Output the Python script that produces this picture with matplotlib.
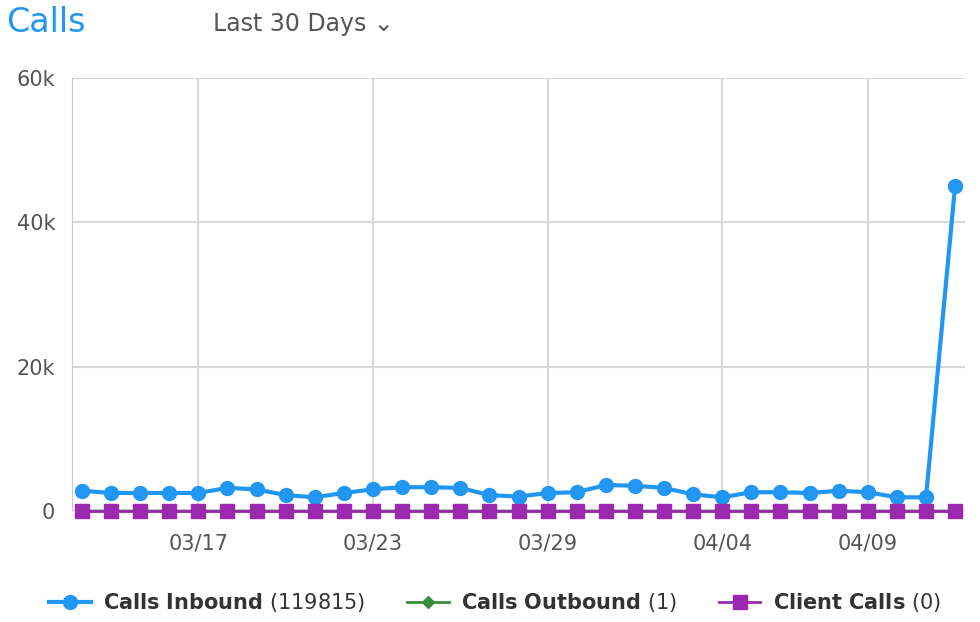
import numpy as np
import matplotlib.pyplot as plt
import matplotlib.dates as mdates
import datetime as dt
from matplotlib.lines import Line2D

start = dt.date(2023, 3, 13)
dates = [start + dt.timedelta(days=i) for i in range(31)]
inbound = [2800, 2500, 2500, 2500, 2500, 3200, 3000, 2200, 1900, 2500,
           3000, 3300, 3300, 3200, 2200, 2000, 2500, 2600, 3600, 3500,
           3200, 2300, 1900, 2600, 2600, 2500, 2800, 2600, 1900, 1900, 45100]
outbound = [0] * 31
outbound[20] = 1
client = [0] * 31
tick_dates = [dt.date(2023, 3, 17), dt.date(2023, 3, 23), dt.date(2023, 3, 29),
              dt.date(2023, 4, 4), dt.date(2023, 4, 9)]

fig = plt.figure(figsize=(9.8, 6.22), dpi=100)
ax = fig.add_axes([72 / 980, 1 - 511 / 622, (965 - 72) / 980, (511 - 78) / 622])

ax.plot(dates, inbound, color='#2196f3', lw=3, marker='o', ms=10, clip_on=False, zorder=3)
ax.plot(dates, outbound, color='#388e3c', lw=2, marker='D', ms=6, clip_on=False, zorder=4)
ax.plot(dates, client, color='#9c27b0', lw=2, marker='s', ms=10, clip_on=False, zorder=5)

ax.set_ylim(0, 60000)
x0 = mdates.date2num(dates[0])
x1 = mdates.date2num(dates[-1])
ax.set_xlim(x0 - 0.34, x1 + 0.34)
ax.set_yticks([0, 20000, 40000, 60000])
ax.set_yticklabels(['0', '20k', '40k', '60k'])
ax.set_xticks(tick_dates)
ax.xaxis.set_major_formatter(mdates.DateFormatter('%m/%d'))
ax.grid(True, color='#d8d8d8', lw=1.5)
ax.set_axisbelow(True)
for s in ['top', 'right', 'bottom']:
    ax.spines[s].set_visible(False)
ax.spines['left'].set_color('#cccccc')
ax.tick_params(length=0, labelsize=15, colors='#555555', pad=12)
ax.tick_params(axis='x', pad=16)

fig.text(6 / 980, 1 - 22 / 622, 'Calls', color='#2196f3', fontsize=24, va='center')
fig.text(213 / 980, 1 - 24 / 622, 'Last 30 Days \u2304', color='#555555', fontsize=17, va='center')

handles = [Line2D([], [], color='#2196f3', lw=3, marker='o', ms=10),
           Line2D([], [], color='#388e3c', lw=2, marker='D', ms=6),
           Line2D([], [], color='#9c27b0', lw=2, marker='s', ms=10)]
labels = [r'$\bf{Calls\ Inbound}$ (119815)', r'$\bf{Calls\ Outbound}$ (1)', r'$\bf{Client\ Calls}$ (0)']
leg = fig.legend(handles, labels, loc='center', bbox_to_anchor=(0.505, 1 - 603 / 622), ncol=3,
                 frameon=False, fontsize=15, handlelength=2, columnspacing=2.0, handletextpad=0.6)
for t in leg.get_texts():
    t.set_color('#333333')

fig.savefig('out.png', dpi=100)
